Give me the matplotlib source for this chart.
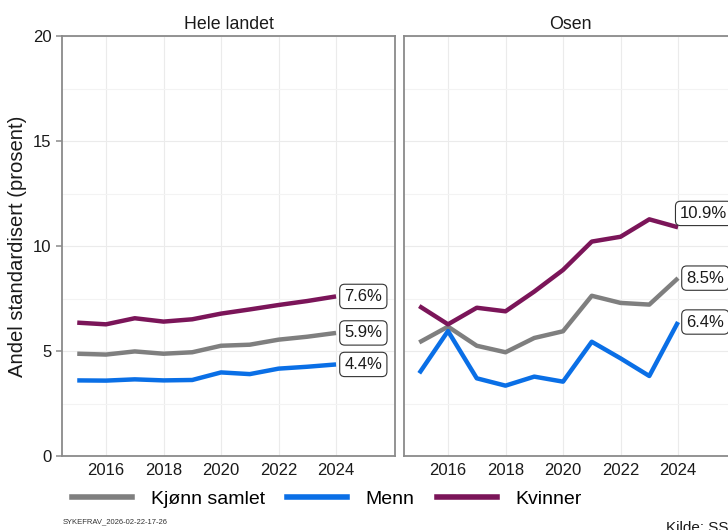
import matplotlib
matplotlib.use("Agg")
import matplotlib.pyplot as plt
from matplotlib.lines import Line2D

plt.rcParams['font.family'] = ['Liberation Sans', 'DejaVu Sans']

years = list(range(2015, 2025))
series = ["Kjønn samlet", "Menn", "Kvinner"]
colors = {"Kjønn samlet": "#7f7f7f", "Menn": "#0a6fe6", "Kvinner": "#7b1559"}

hele_landet = {
    "Kjønn samlet": [4.87, 4.83, 4.98, 4.87, 4.94, 5.25, 5.30, 5.54, 5.68, 5.86],
    "Menn": [3.60, 3.59, 3.65, 3.60, 3.62, 3.98, 3.90, 4.16, 4.25, 4.36],
    "Kvinner": [6.35, 6.27, 6.56, 6.40, 6.51, 6.78, 6.98, 7.19, 7.38, 7.60],
}
osen = {
    "Kjønn samlet": [5.41, 6.16, 5.25, 4.94, 5.62, 5.94, 7.63, 7.29, 7.21, 8.47],
    "Menn": [3.94, 5.95, 3.70, 3.35, 3.78, 3.54, 5.44, 4.65, 3.81, 6.38],
    "Kvinner": [7.14, 6.27, 7.06, 6.89, 7.83, 8.86, 10.21, 10.44, 11.27, 10.89],
}
panels = [("Hele landet", hele_landet), ("Osen", osen)]
# label offsets (points) where ggrepel moved them
nudge = {("Osen", "Kvinner"): (1.5, 10)}

fig = plt.figure(figsize=(7.28, 5.3), dpi=100)
W, H = 728, 530
frame = "#8a8a8a"

for i, (name, data) in enumerate(panels):
    x0 = 62 if i == 0 else 404
    ax = fig.add_axes([x0 / W, (530 - 456) / H, 333 / W, 420 / H])
    ax.set_xlim(2014.47, 2026.05)
    ax.set_ylim(0, 20)
    ax.set_xticks(range(2016, 2025, 2))
    ax.set_yticks([0, 5, 10, 15, 20])
    ax.set_yticks([2.5, 7.5, 12.5, 17.5], minor=True)
    ax.grid(which="major", color="#ebebeb", lw=0.8)
    ax.grid(which="minor", axis="y", color="#f3f3f3", lw=0.8)
    ax.set_axisbelow(True)
    for s in ax.spines.values():
        s.set_color(frame)
        s.set_linewidth(1.3)
    ax.tick_params(axis="x", length=0, pad=5, labelsize=12, labelcolor="#1a1a1a")
    ax.tick_params(axis="y", which="major", length=4, color=frame, width=1.1,
                   labelsize=12, labelcolor="#1a1a1a")
    ax.tick_params(axis="y", which="minor", length=0)
    if i == 1:
        ax.tick_params(axis="y", which="major", length=0, labelleft=False)
    ax.set_title(name, fontsize=12.8, pad=5, color="#1a1a1a")

    for s in series:
        ax.plot(years, data[s], color=colors[s], lw=3.2, solid_capstyle="butt",
                solid_joinstyle="round")
        v = data[s][-1]
        ax.annotate(f"{v:.1f}%", (years[-1], v), xytext=nudge.get((name, s), (6, 0)),
                    textcoords="offset points", ha="left", va="center", fontsize=12,
                    color="#1a1a1a", annotation_clip=False,
                    bbox=dict(boxstyle="round,pad=0.28,rounding_size=0.3", fc="white",
                              ec="#333333", lw=0.8))

fig.text(18 / W, 1 - 246 / H, "Andel standardisert (prosent)", rotation=90,
         ha="center", va="center", fontsize=14.6, color="#1a1a1a")

handles = [Line2D([], [], color=colors[s], lw=4) for s in series]
fig.legend(handles, series, loc="center left", bbox_to_anchor=(64 / W, 1 - 499 / H),
           ncol=3, frameon=False, fontsize=14, handlelength=3.1, handletextpad=0.95,
           columnspacing=1.15, borderaxespad=0)

fig.text(63 / W, 1 - 522 / H, "SYKEFRAV_2026-02-22-17-26", fontsize=5.5,
         color="#333333", va="center")
fig.text(666 / W, 1 - 528 / H, "Kilde: SSB", fontsize=11, color="#1a1a1a",
         va="center")

fig.savefig("out.png", dpi=100)
